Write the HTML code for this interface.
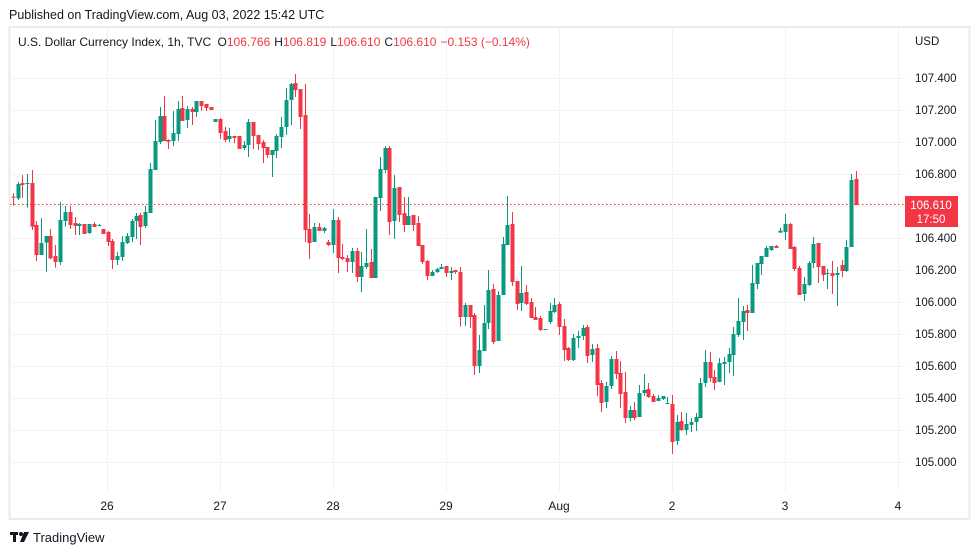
<!DOCTYPE html>
<html><head><meta charset="utf-8"><style>
body{margin:0;background:#fff;width:979px;height:555px;overflow:hidden;font-family:"Liberation Sans",Arial,sans-serif;}
svg{position:absolute;left:0;top:0}
</style></head><body>
<svg id="s" width="979" height="555" xmlns="http://www.w3.org/2000/svg" font-family="Liberation Sans, Arial, sans-serif">
<text x="9" y="19" font-size="12.5" fill="#131722">Published on TradingView.com, Aug 03, 2022 15:42 UTC</text>
<rect x="9.5" y="27" width="960" height="492" fill="none" stroke="#e9ebf1" stroke-width="2"/>
<g id="grid" stroke="#f0f2f6" stroke-width="1"></g>
<g id="c"></g>
<line x1="10" x2="905" y1="204.5" y2="204.5" stroke="#f23645" stroke-width="1" stroke-dasharray="1.5,2.5"/>
<g id="pl" font-size="11.5" fill="#131722"></g>
<rect x="905" y="196" width="53" height="31" fill="#f23645"/>
<text x="931" y="209" font-size="11.5" fill="#fff" text-anchor="middle">106.610</text>
<text x="931" y="223" font-size="11.5" fill="#fff" text-anchor="middle">17:50</text>
<text x="915" y="45" font-size="11.5" fill="#131722">USD</text>
<text x="18" y="46" font-size="12" fill="#131722">U.S. Dollar Currency Index, 1h, TVC <tspan dx="3">O</tspan><tspan fill="#f23645">106.766</tspan><tspan dx="4">H</tspan><tspan fill="#f23645">106.819</tspan><tspan dx="4">L</tspan><tspan fill="#f23645">106.610</tspan><tspan dx="4">C</tspan><tspan fill="#f23645">106.610</tspan><tspan dx="4" fill="#f23645">−0.153 (−0.14%)</tspan></text>
<g id="tl" font-size="12" fill="#131722" text-anchor="middle"></g>
<g transform="translate(10,532)"><rect x="0" y="0" width="8" height="3" fill="#131722"/><rect x="3" y="0" width="3" height="10" fill="#131722"/><circle cx="11" cy="2" r="2" fill="#131722"/><path d="M14 0h5l-5 10h-4z" fill="#131722"/></g>
<text x="33" y="542" font-size="13" fill="#131722">TradingView</text>
</svg>
<script>
var NS="http://www.w3.org/2000/svg";
function el(p,t,a,txt){var e=document.createElementNS(NS,t);for(var k in a)e.setAttribute(k,a[k]);if(txt)e.textContent=txt;document.getElementById(p).appendChild(e);}
var xs=[107,220,333,446,559,672,785,898],lb=["26","27","28","29","Aug","2","3","4"];
xs.forEach(function(x,i){if(x<905)el("grid","line",{x1:x+.5,x2:x+.5,y1:28,y2:491});el("tl","text",{x:x,y:510},lb[i]);});
var pr=["107.400","107.200","107.000","106.800","106.600","106.400","106.200","106.000","105.800","105.600","105.400","105.200","105.000"];
for(var i=0;i<13;i++){var y=78+32*i;el("grid","line",{x1:10,x2:905,y1:y+.5,y2:y+.5});if(i!=4)el("pl","text",{x:915,y:y+4},pr[i]);}
var Z=[
[8,60,[[15,'r',410,413,400,437],[30,'g',372,415,365,420],[43,'r',369,375,345,413],[58,'g',369,371,342,443],[73,'r',369,500,330,510],[85,'r',495,585,483,603],[100,'g',549,585,474,585],[115,'g',528,548,528,635],[127,'r',528,595,507,598],[142,'r',588,606,555,623],[157,'g',480,606,426,615],[172,'g',456,483,438,500],[185,'r',456,495,438,507],[200,'r',489,498,471,525],[214,'g',492,498,489,525],[227,'r',492,522,492,522],[242,'g',492,519,492,522],[257,'r',492,501,486,501],[272,'g',495,498,492,498],[285,'r',507,522,507,522],[299,'r',516,546,513,558],[313,'r',543,600,537,627],[326,'g',588,600,576,615],[341,'g',546,591,528,603],[356,'g',528,549,519,552],[371,'g',483,531,477,546],[383,'g',468,483,459,537],[397,'r',465,501,459,555],[412,'g',456,498,438,504],[425,'g',327,459,309,459],[440,'g',243,330,180,330],[455,'g',168,246,141,252],[467,'r',168,243,108,243]]],
[160,60,[[25,'r',240,245,238,267],[40,'g',219,243,153,258],[55,'g',147,222,123,243],[67,'r',144,183,108,183],[82,'g',147,180,138,204],[97,'r',147,156,141,195],[109,'g',123,156,123,171],[124,'r',123,138,123,153],[139,'r',132,144,132,153],[154,'r',141,150,141,150],[166,'g',177,186,177,186],[181,'r',177,219,174,237],[196,'r',213,240,201,246],[208,'g',228,237,204,246],[223,'r',228,234,228,249],[238,'r',228,267,228,267],[253,'g',255,264,243,270],[265,'g',186,255,177,291],[280,'r',186,228,186,267],[295,'r',225,252,225,270],[308,'r',246,264,240,309],[322,'r',261,285,261,294],[337,'g',270,285,270,351],[349,'g',228,273,222,294],[364,'g',201,231,171,264],[379,'g',120,201,84,225],[394,'g',72,120,69,195],[406,'r',69,90,42,111],[421,'r',87,171,87,207]]],
[300,130,[[15,'r',-45,300,-138,336],[28,'r',297,339,252,387],[43,'g',291,336,279,336],[58,'r',291,303,279,303],[73,'g',294,303,291,309],[85,'r',336,345,330,348],[100,'g',270,345,237,369],[115,'r',270,384,261,429],[127,'r',381,387,342,390],[142,'r',384,396,375,426],[157,'g',363,396,354,429],[172,'r',363,441,354,456],[184,'g',408,441,366,486],[199,'g',399,411,297,417],[214,'r',396,444,357,444],[226,'g',201,444,201,444],[241,'g',117,204,81,243],[256,'g',54,120,48,129],[268,'r',54,276,48,315],[283,'g',174,273,135,327],[298,'r',171,255,171,276],[313,'r',249,285,201,306],[325,'g',258,285,201,285],[340,'r',255,285,255,303],[355,'r',279,348,258,348],[367,'r',345,396,345,402],[382,'r',393,438,390,450],[397,'g',426,438,420,438],[412,'g',417,426,414,429],[424,'g',411,417,402,417],[439,'r',408,429,408,441],[454,'g',423,429,411,450],[466,'r',420,426,420,432]]],
[460,190,[[1,'r',246,381,231,410],[16,'g',345,381,339,408],[31,'r',345,381,345,414],[43,'r',375,528,369,555],[58,'g',480,528,435,549],[73,'g',399,483,345,483],[85,'g',300,399,240,417],[100,'r',297,456,282,462],[115,'g',315,453,303,453],[130,'g',162,315,141,315],[142,'g',105,165,18,165],[157,'r',102,276,66,288],[172,'r',273,342,273,360],[184,'g',309,339,228,363],[199,'r',306,342,285,345],[214,'r',336,384,324,384],[226,'r',381,390,351,390],[241,'r',384,420,378,423],[256,'g',417,419,417,419],[271,'g',363,396,339,402],[283,'g',345,366,324,369],[298,'r',342,411,336,435],[313,'r',408,480,387,513],[325,'r',474,510,471,513],[340,'g',444,510,432,513],[355,'g',438,444,423,474],[370,'g',414,438,405,450],[382,'r',411,498,405,519],[397,'g',477,495,462,516],[412,'r',474,585,462,618],[424,'r',579,639,570,666],[439,'g',588,636,576,654],[454,'g',507,588,498,597],[469,'r',507,552,483,567]]],
[610,230,[[31,'r',429,492,393,534],[46,'r',486,564,426,579],[61,'g',540,564,528,573],[73,'r',540,564,516,570],[88,'g',489,561,465,561],[103,'g',480,489,432,498],[115,'r',477,501,459,504],[130,'r',498,516,492,516],[145,'g',504,513,495,513],[160,'g',498,507,498,510],[172,'g',519,521,501,521],[187,'r',522,636,495,672],[202,'g',576,633,555,645],[214,'r',573,600,546,603],[229,'g',582,600,549,615],[244,'g',576,585,564,606],[259,'g',561,576,549,603],[271,'g',459,564,444,564],[286,'g',396,459,360,471],[301,'r',396,444,366,456],[313,'r',441,459,420,480],[328,'g',399,456,384,456],[343,'g',396,402,381,465],[358,'g',372,396,354,429],[370,'g',312,375,291,438],[385,'g',273,315,204,321],[400,'g',243,276,228,330],[412,'r',240,249,225,303],[427,'g',159,249,105,249]]],
[755,160,[[7,'g',309,372,309,387],[19,'g',288,312,288,345],[34,'g',264,291,258,291],[49,'g',258,270,258,273],[64,'r',258,264,255,264],[76,'g',212,218,204,218],[91,'g',192,216,162,240],[106,'r',192,267,189,267],[118,'r',261,327,258,333],[133,'r',324,405,318,405],[148,'g',372,402,351,423],[163,'g',309,375,303,378],[175,'g',252,309,231,324],[190,'r',249,321,249,369],[205,'r',318,345,318,363],[217,'g',339,342,327,387],[232,'r',339,348,303,402],[247,'g',339,345,321,438],[262,'r',315,333,300,351],[274,'g',261,333,240,336],[289,'g',60,261,42,261],[304,'r',57,135,33,135]]]
];
Z.forEach(function(z){var ox=z[0],oy=z[1];z[2].forEach(function(c){
 var x=ox+c[0]/3,col=c[1]=='g'?'#089981':'#f23645';
 var bt=oy+c[2]/3,bb=oy+c[3]/3,wt=oy+c[4]/3,wb=oy+c[5]/3;
 el("c","rect",{x:Math.round(x),y:wt,width:1,height:Math.max(wb-wt,1),fill:col});
 el("c","rect",{x:Math.round(x)-1.5,y:bt,width:4,height:Math.max(bb-bt,1),fill:col});
});});
</script>
</body></html>
